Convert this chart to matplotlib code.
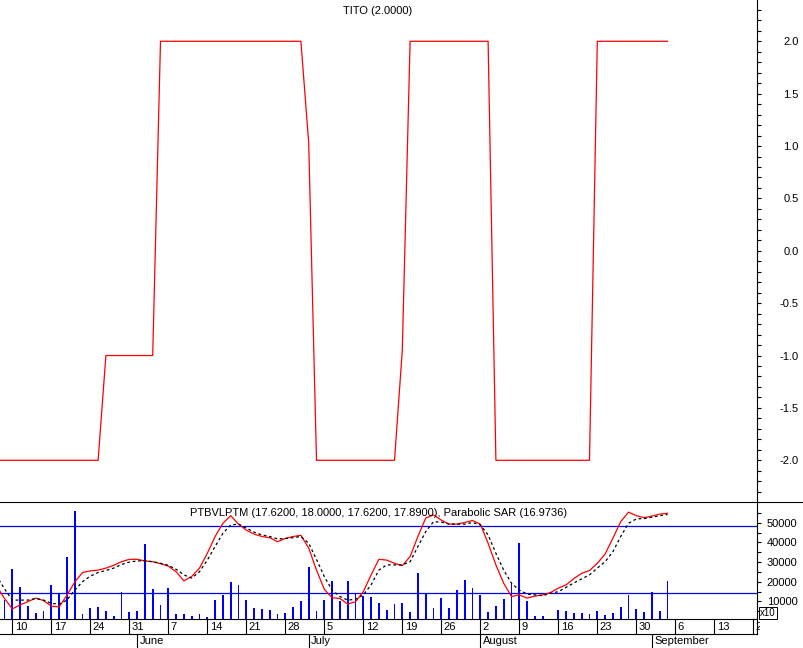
import numpy as np
import matplotlib
matplotlib.use('Agg')
import matplotlib.pyplot as plt
from matplotlib.transforms import blended_transform_factory, ScaledTranslation, Bbox
from matplotlib.lines import Line2D

plt.rcParams['font.family'] = ['Liberation Sans', 'DejaVu Sans']

# ---------------- data (trading-day index, 0 = Monday May 10) ----------------
days = list(range(-2, 85))

tito = [-2, -2, -2, -2, -2, -2, -2, -2, -2, -2, -2, -2, -2, -2,
        -1, -1, -1, -1, -1, -1, -1,
        2, 2, 2, 2, 2, 2, 2, 2, 2, 2, 2, 2, 2, 2, 2, 2, 2, 2, 2,
        1.03,
        -2, -2, -2, -2, -2, -2, -2, -2, -2, -2, -2,
        -0.95,
        2, 2, 2, 2, 2, 2, 2, 2, 2, 2, 2,
        -2, -2, -2, -2, -2, -2, -2, -2, -2, -2, -2, -2, -2,
        2, 2, 2, 2, 2, 2, 2, 2, 2, 2]

close = [16.07, 15.76, 15.50, 15.60, 15.68, 15.77, 15.71, 15.57, 15.55, 15.84,
         16.17, 16.41, 16.45, 16.47, 16.52, 16.59, 16.68, 16.74, 16.74, 16.70,
         16.68, 16.63, 16.57, 16.43, 16.20, 16.31, 16.52, 16.89, 17.31, 17.64,
         17.83, 17.62, 17.47, 17.37, 17.31, 17.28, 17.18, 17.26, 17.31, 17.34,
         17.02, 16.47, 15.99, 15.78, 15.76, 15.62, 15.68, 15.93, 16.35, 16.74,
         16.72, 16.64, 16.58, 16.81, 17.31, 17.77, 17.85, 17.72, 17.62, 17.62,
         17.66, 17.71, 17.62, 17.14, 16.60, 16.14, 15.81, 15.85, 15.77, 15.82,
         15.85, 15.91, 16.02, 16.10, 16.26, 16.39, 16.46, 16.64, 16.87, 17.27,
         17.68, 17.92, 17.83, 17.78, 17.82, 17.87, 17.89]

average = [16.32, 16.00, 15.72, 15.72, 15.72, 15.76, 15.72, 15.64, 15.62, 15.72,
           15.97, 16.18, 16.32, 16.41, 16.46, 16.52, 16.61, 16.67, 16.70, 16.70,
           16.68, 16.64, 16.59, 16.49, 16.35, 16.27, 16.43, 16.72, 17.06, 17.39,
           17.60, 17.62, 17.52, 17.42, 17.35, 17.31, 17.25, 17.26, 17.28, 17.31,
           17.14, 16.74, 16.31, 15.97, 15.81, 15.72, 15.74, 15.85, 16.10, 16.47,
           16.60, 16.60, 16.60, 16.68, 17.06, 17.43, 17.68, 17.67, 17.62, 17.62,
           17.62, 17.66, 17.60, 17.35, 16.89, 16.47, 16.14, 15.97, 15.87, 15.85,
           15.83, 15.89, 15.93, 16.04, 16.15, 16.25, 16.35, 16.52, 16.68, 16.93,
           17.31, 17.64, 17.75, 17.76, 17.79, 17.83, 17.86]

vol_days = list(range(-1, 85))
volume = [10700, 26500, 17300, 7600, 3900, 5100, 18300, 13600, 32600, 56000,
          3400, 6600, 7100, 5100, 2400, 14800, 4400, 5100, 39300, 16300,
          8100, 16800, 3600, 3600, 2500, 3600, 2200, 10700, 13200, 19800,
          18300, 10700, 6600, 6300, 5600, 3600, 4200, 7100, 10200, 27600,
          5100, 10700, 20400, 10000, 20400, 14100, 12900, 12200, 9200, 5800,
          8500, 9200, 4400, 24400, 13900, 6500, 11500, 6600, 15800, 20900,
          16600, 13200, 4400, 7600, 11200, 19500, 39700, 10300, 2500, 2500,
          0, 5600, 4900, 3900, 3900, 3400, 4900, 3100, 3900, 7000,
          13200, 6100, 4400, 14800, 4900, 20400]

level_lines = [48400, 14100]

week_days = [0, 5, 10, 15, 20, 25, 30, 35, 40, 45, 50, 55, 60, 65, 70, 75, 80, 85, 90, 95]
week_labels = ['10', '17', '24', '31', '7', '14', '21', '28', '5', '12', '19', '26',
               '2', '9', '16', '23', '30', '6', '13', '20']
month_days = [16, 38, 60, 82]
month_labels = ['June', 'July', 'August', 'September']

top_title = 'TITO (2.0000)'
bottom_title = 'PTBVLPTM (17.6200, 18.0000, 17.6200, 17.8900), Parabolic SAR (16.9736)'

# ---------------- layout ----------------
W, H = 804, 648
fig = plt.figure(figsize=(W / 100, H / 100), dpi=100)
fig.patch.set_facecolor('white')

XR = 757.0            # right axis position (px)
X0, DX = 12.3, 7.8    # pixel of day 0, pixels per trading day
xlim = (-X0 / DX, (XR - X0) / DX)

RED = '#ff0000'
BLUE = '#0000ff'
FS = 8

def fx(px):
    return px / W

def fy(py):
    return 1 - py / H

# top panel: y 0..502
ax1 = fig.add_axes([0, fy(502), fx(XR), 502 / H])
ax1.plot(days, tito, color=RED, lw=0.9)
ax1.set_xlim(*xlim)
ax1.set_ylim(-2.398, 2.394)
for s in ['left', 'top', 'bottom']:
    ax1.spines[s].set_visible(False)
ax1.spines['right'].set_linewidth(0.8)
ax1.set_xticks([])
ax1.yaxis.tick_right()
ax1.set_yticks([-2.0, -1.5, -1.0, -0.5, 0.0, 0.5, 1.0, 1.5, 2.0])
ax1.set_yticks(np.arange(-2.3, 2.35, 0.1), minor=True)
ax1.set_yticklabels(['-2.0', '-1.5', '-1.0', '-0.5', '0.0', '0.5', '1.0', '1.5', '2.0'])
ax1.tick_params(axis='y', which='both', direction='out', length=3, width=0.8,
                pad=27.2, labelsize=FS)
for lab in ax1.get_yticklabels():
    lab.set_horizontalalignment('right')

# bottom panel: y 502..619 (volume axis + overlaid price axis)
rect = [0, fy(619), fx(XR), 117 / H]
axv = fig.add_axes(rect)
axp = fig.add_axes(rect, sharex=axv)
axp.patch.set_visible(False)

axv.bar(vol_days, volume, width=0.25, color=BLUE, linewidth=0)
for lv in level_lines:
    axv.axhline(lv, color=BLUE, lw=0.9)
axv.set_xlim(*xlim)
axv.set_ylim(1020, 60560)
for s in ['left', 'top']:
    axv.spines[s].set_visible(False)
axv.spines['right'].set_linewidth(0.8)
axv.spines['bottom'].set_linewidth(0.8)
axv.yaxis.tick_right()
axv.set_yticks([10000, 20000, 30000, 40000, 50000])
axv.set_yticks(np.arange(5000, 56000, 5000), minor=True)
axv.set_yticklabels(['10000', '20000', '30000', '40000', '50000'])
axv.tick_params(axis='y', which='both', direction='out', length=3, width=0.8,
                pad=26.2, labelsize=FS)
for lab in axv.get_yticklabels():
    lab.set_horizontalalignment('right')

axp.plot(days, close, color=RED, lw=0.9)
axp.plot(days, average, color='black', lw=0.9, linestyle=(0, (2.2, 2.2)))
axp.set_ylim(15.2475, 18.1725)
axp.set_yticks([])
axp.tick_params(axis='x', which='both', bottom=False, labelbottom=False)
for s in axp.spines.values():
    s.set_visible(False)

# date rows
axv.set_xticks([])
blend = blended_transform_factory(axv.transData, axv.transAxes)
row1 = -(634 - 619) / 117
row2 = -(648 - 619) / 117
off = ScaledTranslation(2.5 / 100, 0, fig.dpi_scale_trans)
clipbox = Bbox([[0, 0], [XR + 3, H]])
for d, lab in zip(week_days, week_labels):
    axv.plot([d, d], [0, row1], transform=blend, color='black', lw=0.8, clip_on=False)
    t = axv.text(d, -(627 - 619) / 117, lab, transform=blend + off, ha='left',
                 va='center', fontsize=FS, clip_on=True)
    t.set_clip_box(clipbox)
for d, lab in zip(month_days, month_labels):
    axv.plot([d, d], [row1, row2], transform=blend, color='black', lw=0.8, clip_on=False)
    axv.text(d, -(641.5 - 619) / 117, lab, transform=blend + off, ha='left',
             va='center', fontsize=FS, clip_on=False)
axv.plot([0, 1], [row1, row1], transform=axv.transAxes, color='black', lw=0.8, clip_on=False)
axv.plot([1, 1], [0, row1], transform=axv.transAxes, color='black', lw=0.8, clip_on=False)

# panel separator across full width
fig.add_artist(Line2D([0, 1], [fy(502), fy(502)], transform=fig.transFigure,
                      color='black', lw=0.8))

# titles
fig.text(fx(377.5), fy(10.5), top_title, ha='center', va='center', fontsize=FS)
fig.text(fx(378.5), fy(512.5), bottom_title, ha='center', va='center', fontsize=FS)

# x10 box
fig.text(fx(760), fy(613), 'x10', ha='left', va='center', fontsize=7,
         bbox=dict(boxstyle='square,pad=0.15', fc='white', ec='black', lw=0.7))

fig.savefig('out.png', dpi=100, facecolor='white')
